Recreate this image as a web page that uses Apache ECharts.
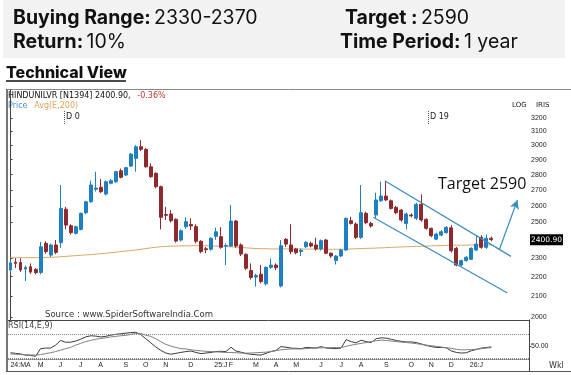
<!DOCTYPE html>
<html><head><meta charset="utf-8">
<script src="https://cdn.jsdelivr.net/npm/echarts@6/dist/echarts.min.js"></script>
<style>html,body{margin:0;padding:0;background:#fff}#c{width:571px;height:375px}</style>
</head><body><div id="c"></div>
<script>
// ---- data (weekly candles: [open, close, low, high]) ----
const candles = [
[2235,2273,2222,2292],[2276,2270,2245,2298],[2275,2235,2225,2298],[2240,2248,2178,2258],[2252,2224,2215,2270],
[2238,2221,2212,2245],[2222,2361,2212,2389],[2380,2334,2322,2392],[2315,2371,2305,2378],[2371,2330,2320,2399],
[2384,2585,2355,2732],[2580,2485,2460,2595],[2481,2441,2430,2490],[2437,2475,2430,2482],[2460,2555,2455,2560],
[2559,2626,2550,2632],[2626,2732,2620,2760],[2705,2712,2690,2819],[2717,2689,2680,2771],[2674,2753,2665,2760],
[2743,2760,2735,2770],[2753,2819,2745,2825],[2825,2782,2775,2840],[2797,2846,2790,2852],[2857,2939,2850,2945],
[2909,2990,2819,3002],[2990,2972,2960,3038],[2972,2852,2845,2980],[2852,2786,2778,2875],[2808,2721,2710,2815],
[2721,2531,2460,2728],[2548,2543,2515,2595],[2551,2511,2500,2575],[2519,2393,2385,2525],[2399,2452,2390,2460],
[2475,2505,2465,2531],[2489,2480,2456,2525],[2476,2392,2380,2490],[2392,2334,2325,2398],[2350,2345,2325,2360],
[2347,2409,2340,2415],[2420,2446,2400,2470],[2418,2358,2350,2472],[2365,2368,2261,2380],[2365,2509,2360,2606],
[2509,2365,2355,2515],[2371,2321,2310,2380],[2319,2244,2235,2325],[2232,2196,2185,2270],[2198,2206,2149,2215],
[2213,2175,2165,2261],[2163,2249,2155,2255],[2249,2261,2240,2297],[2261,2247,2235,2270],[2152,2367,2145,2399],
[2403,2376,2360,2410],[2371,2334,2320,2490],[2349,2328,2320,2355],[2335,2342,2310,2350],[2361,2386,2355,2392],
[2380,2365,2358,2390],[2371,2349,2340,2412],[2349,2395,2340,2402],[2399,2325,2320,2405],[2325,2310,2300,2330],
[2285,2310,2264,2315],[2310,2343,2305,2350],[2343,2525,2338,2530],[2511,2495,2488,2535],[2491,2414,2405,2500],
[2414,2559,2405,2732],[2555,2499,2490,2565],[2495,2480,2470,2505],[2545,2637,2525,2682],[2632,2661,2625,2753],
[2661,2637,2630,2753],[2632,2585,2578,2640],[2591,2559,2550,2600],[2575,2515,2505,2580],[2495,2551,2460,2560],
[2545,2540,2530,2555],[2525,2610,2515,2620],[2610,2515,2505,2672],[2519,2466,2458,2525],[2466,2423,2415,2470],
[2404,2433,2398,2440],[2427,2446,2420,2456],[2441,2472,2435,2478],[2469,2339,2330,2485],[2352,2261,2255,2360],
[2261,2285,2255,2290],[2285,2303,2280,2310],[2292,2352,2288,2358],[2343,2376,2338,2427],[2414,2358,2350,2427],
[2358,2409,2350,2430],[2409,2401,2392,2418]
];
const ema200 = [
2301,2301,2301,2301,2301,2301,2301,2302,2303,2304,
2306,2308,2310,2312,2314,2316,2318,2320,2323,2325,
2328,2331,2334,2337,2340,2343,2347,2351,2355,2358,
2361,2363,2364,2365,2366,2366,2367,2367,2367,2367,
2366,2365,2364,2362,2361,2359,2357,2355,2353,2351,
2350,2350,2349,2349,2349,2349,2349,2349,2349,2348,
2348,2348,2348,2347,2347,2347,2347,2348,2349,2350,
2351,2352,2353,2354,2355,2356,2358,2359,2360,2361,
2362,2363,2364,2365,2366,2367,2368,2369,2370,2370,
2370,2370,2371,2371,2371,2371,2371
];
const rsi = [
39,38,37,35,34.5,33,46,47,47,52,
60,57,57,59,62,66,68,67.5,66,67,
69,70.5,71.5,72.5,73.5,74,70,63,56,49,
43,38.5,36.5,38,39.5,41,42,39.5,37.5,38.5,
39.5,41,41.5,41,48.5,42,40,37.5,36.5,35.5,
35,38,41,43,49.5,48.5,47,46.5,46,48,
47.5,47,49.5,47,46.5,46,47,61.5,58,56,
60.5,58,56.5,63,64.5,64,62,60,58.5,57.5,
57.5,56.5,54,51.5,49.5,48,48,47.5,42,39.5,
38.5,39,42.5,44.5,47,48,49
];
const rsiSignal = [
37,36.5,36,35.5,35.2,35,36,37.5,39,41,
43.5,46,48,52,55,58,60,62,63.5,64.5,
66,67,68,68.8,70.5,72,72,69,67,63,
58,53.3,50.5,48,46.2,45.5,44,43,42.2,41.5,
41,40.5,40,39.5,39.5,39,38.5,38.3,38.5,39,
39.5,40,41,42.5,44,45,45.5,45.5,45.5,46,
46.5,47,47.5,47.8,47.8,47.8,47.8,50,52,53.5,
55,56.5,58,59.5,60.5,60,59,58,57.2,56.5,
55.5,54.5,53.3,52,51,50,48.8,47.5,46.5,45,
43.8,44,44.5,45,46,47,47.8
];
const monthTickIndex = [2,6,10,14,18,23,27,31,36,42,44,49,53,57,62,66,70,75,80,84,88,93];
const monthTickText = ['24:MA','M','J','J','A','S','O','N','D','25:J','F','M','A','M','J','J','A','S','O','N','D','26:J'];
const priceTicks = [2000,2100,2200,2300,2500,2600,2700,2800,2900,3000,3100,3200];
const rsiTicks = [50];
const rsiLevels = [30,70];
const lastPrice = 2400.90;
// trend channel & target arrow: [week index, price]
const channelUpper = [[74.7,2760],[99.9,2308]];
const channelLower = [[72.4,2531],[99.2,2117]];
const targetArrow = [[97.6,2347],[101.2,2637]];

const N_SLOTS = 104;
const cats = Array.from({length: N_SLOTS}, (_, i) => 'w' + i);
const labelMap = {};
monthTickIndex.forEach((ix, k) => { labelMap[ix] = monthTickText[k]; });

const FONT = '"Liberation Sans", Arial, sans-serif';
const VFONT = '"DejaVu Sans", Verdana, sans-serif';
const HFONT = 'Inter, "Noto Sans", sans-serif';
const UP = '#1e7fc1', DOWN = '#8e2a2e', TEAL = '#3a8cbf';

function txt(x, y, text, size, color) {
  return {type:'text', x:x, y:y, silent:true, style:{
    text:text, fill:color, font: size + 'px ' + VFONT, textVerticalAlign:'middle', verticalAlign:'middle'}};
}
function seg(x1,y1,x2,y2,color,w,dash){
  return {type:'line', silent:true, shape:{x1:x1,y1:y1,x2:x2,y2:y2}, style:{stroke:color, lineWidth:w||1, lineDash:dash||null}};
}
function head(x, y, bold, normal){
  return {type:'text', x:x, y:y, silent:true, style:{text:'{b|' + bold + '} {n|' + normal + '}', textVerticalAlign:'middle', verticalAlign:'middle',
    rich:{b:{fontWeight:'bold', fontSize:19.5, fontFamily:HFONT, fill:'#111'}, n:{fontSize:19.5, fontFamily:HFONT, fill:'#111'}}}};
}

const chart = echarts.init(document.getElementById('c'), null, {renderer:'canvas'});
const option = {
  animation:false,
  backgroundColor:'#fff',
  grid:[
    {left:8, right:42, top:90, height:230},
    {left:8, right:42, top:320, height:39}
  ],
  xAxis:[
    {type:'category', gridIndex:0, data:cats, boundaryGap:true,
     axisLine:{show:true, lineStyle:{color:'#444'}}, axisTick:{show:false}, axisLabel:{show:false}, splitLine:{show:false}},
    {type:'category', gridIndex:1, data:cats, boundaryGap:true,
     axisLine:{show:true, lineStyle:{color:'#777', type:'dotted'}}, axisTick:{show:false},
     axisLabel:{show:true, interval:0, formatter:(v,i)=>labelMap[i]||'', fontSize:7, color:'#222', margin:3, fontFamily:FONT},
     splitLine:{show:false}},
    {type:'value', gridIndex:0, position:'top', min:-0.5, max:N_SLOTS-0.5, show:false}
  ],
  yAxis:[
    {type:'log', logBase:10, gridIndex:0, position:'right', min:1986, max:3419,
     axisLine:{show:true, lineStyle:{color:'#444'}},
     axisTick:{show:true, customValues:priceTicks, length:2, lineStyle:{color:'#444'}},
     axisLabel:{show:true, customValues:priceTicks, fontSize:7, color:'#222', margin:2, fontFamily:FONT,
                formatter:v=>String(Math.round(v))},
     splitLine:{show:false}},
    {type:'value', gridIndex:1, position:'right', min:28.3, max:95,
     axisLine:{show:true, lineStyle:{color:'#444'}},
     axisTick:{show:true, customValues:rsiTicks, length:2, lineStyle:{color:'#444'}},
     axisLabel:{show:true, customValues:rsiTicks, fontSize:7, color:'#222', margin:2, fontFamily:FONT,
                formatter:v=>Number(v).toFixed(2)},
     splitLine:{show:false}}
  ],
  series:[
    {type:'candlestick', name:'Price', xAxisIndex:0, yAxisIndex:0, data:candles, barWidth:3.4,
     itemStyle:{color:UP, color0:DOWN, borderColor:UP, borderColor0:DOWN, borderWidth:1},
     markLine:{silent:true, symbol:['none','none'], animation:false,
       data:[{yAxis:lastPrice}],
       lineStyle:{color:'transparent', width:0},
       label:{show:true, position:'end', formatter:()=>lastPrice.toFixed(2), backgroundColor:'#000', color:'#fff',
              fontSize:7.5, fontFamily:VFONT, padding:[2,1,1,1], distance:1}}},
    {type:'line', name:'Avg(E,200)', xAxisIndex:0, yAxisIndex:0, data:ema200, showSymbol:false, symbol:'none',
     lineStyle:{color:'#d8a864', width:1}, z:1},
    {type:'line', name:'annotations', xAxisIndex:2, yAxisIndex:0, data:[], symbol:'none',
     markLine:{silent:true, animation:false, symbol:['none','none'], label:{show:false},
       lineStyle:{color:TEAL, width:1.2, type:'solid'},
       data:[
         [{coord:channelUpper[0]},{coord:channelUpper[1]}],
         [{coord:channelLower[0]},{coord:channelLower[1]}],
         [{coord:targetArrow[0], symbol:'none'},{coord:targetArrow[1], symbol:'arrow', symbolSize:[7,9]}]
       ]}},
    {type:'line', name:'RSI', xAxisIndex:1, yAxisIndex:1, data:rsi, showSymbol:false, symbol:'none',
     lineStyle:{color:'#3a3a3a', width:1},
     markLine:{silent:true, animation:false, symbol:['none','none'], label:{show:false},
       lineStyle:{color:'#888', width:1, type:'dotted'},
       data:rsiLevels.map(v=>({yAxis:v}))}},
    {type:'line', name:'Signal', xAxisIndex:1, yAxisIndex:1, data:rsiSignal, showSymbol:false, symbol:'none',
     lineStyle:{color:'#808080', width:1}}
  ],
  graphic:{elements:[
    {type:'rect', silent:true, shape:{x:3, y:0, width:562, height:58}, style:{fill:'#f2f2f2'}, z:-1},
    head(13, 18, 'Buying Range:', '2330-2370'),
    head(345, 18, 'Target :', '2590'),
    head(13, 42, 'Return:', '10%'),
    head(340, 42, 'Time Period:', '1 year'),
    {type:'text', x:6, y:73, silent:true, style:{text:'Technical View', fill:'#111', font:'800 16px ' + HFONT, textVerticalAlign:'middle', verticalAlign:'middle'}},
    seg(6, 81, 126, 81, '#111', 1.5),
    // frame
    seg(6, 89.5, 571, 89.5, '#888', 1),
    seg(7, 89, 7, 372, '#777', 2),
    seg(6, 371.5, 571, 371.5, '#555', 1),
    seg(529.5, 359, 529.5, 372, '#444', 1),
    // in-chart texts
    {type:'text', x:8, y:96, silent:true, style:{text:'{k|HINDUNILVR [N1394] 2400.90,}  {r|-0.36%}', textVerticalAlign:'middle', verticalAlign:'middle',
      rich:{k:{fontSize:8, fontFamily:VFONT, fill:'#111'}, r:{fontSize:8, fontFamily:VFONT, fill:'#c0392b'}}}},
    {type:'text', x:8, y:106, silent:true, style:{text:'{p|Price}  {a|Avg(E,200)}', textVerticalAlign:'middle', verticalAlign:'middle',
      rich:{p:{fontSize:8, fontFamily:VFONT, fill:'#4a90c8'}, a:{fontSize:8, fontFamily:VFONT, fill:'#e0a458'}}}},
    seg(64.5, 111, 64.5, 124, '#555', 1, [1,1]),
    txt(66, 117, 'D 0', 8, '#222'),
    seg(428.5, 111, 428.5, 124, '#555', 1, [1,1]),
    txt(430, 117, 'D 19', 8, '#222'),
    txt(512, 105, 'LOG', 7, '#222'),
    txt(536, 105, 'IRIS', 7, '#222'),
    txt(45, 315, 'Source : www.SpiderSoftwareIndia.Com', 8.5, '#333'),
    txt(8, 326, 'RSI(14,E,9)', 8, '#444'),
    txt(549, 366, 'Wkl', 8, '#333'),
    {type:'text', x:438, y:184, silent:true, style:{text:'Target 2590', fill:'#111', font:'16px "Open Sans", sans-serif', textVerticalAlign:'middle', verticalAlign:'middle'}}
  ]}
};
chart.setOption(option);
</script>
</body></html>
